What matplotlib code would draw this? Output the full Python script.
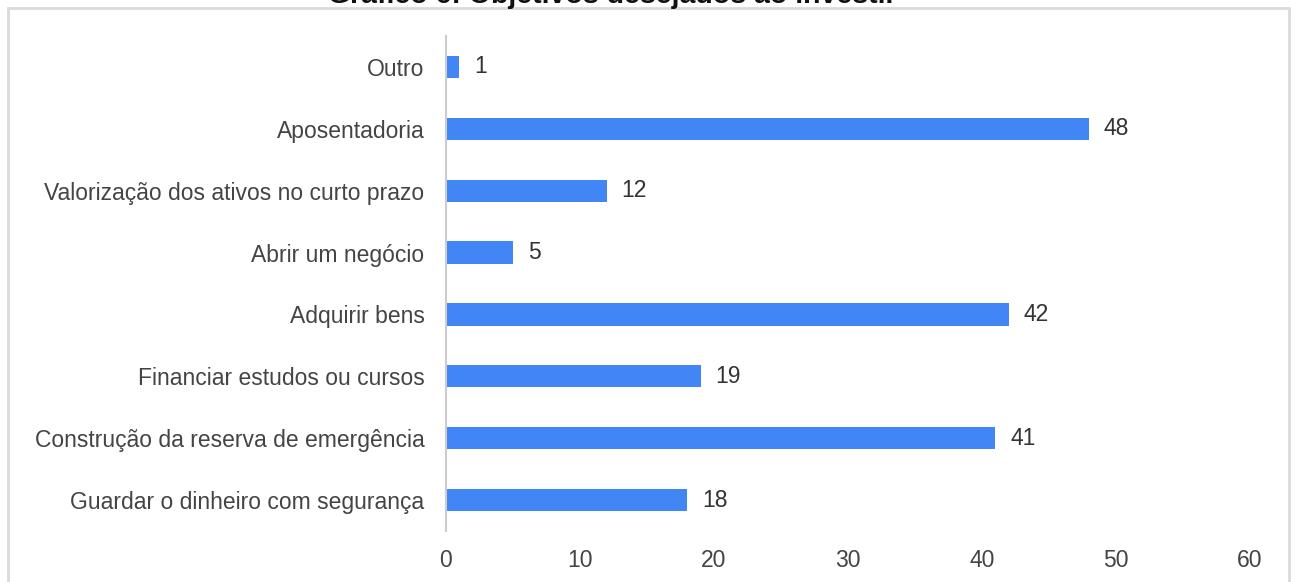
import matplotlib
matplotlib.use("Agg")
import matplotlib.pyplot as plt
from matplotlib.patches import Rectangle

categories = [
    "Guardar o dinheiro com segurança",
    "Construção da reserva de emergência",
    "Financiar estudos ou cursos",
    "Adquirir bens",
    "Abrir um negócio",
    "Valorização dos ativos no curto prazo",
    "Aposentadoria",
    "Outro",
]
values = [18, 41, 19, 42, 5, 12, 48, 1]
xticks = [0, 10, 20, 30, 40, 50, 60]
title = "Gráfico 6: Objetivos desejados ao investir"

plt.rcParams["font.family"] = ["Liberation Sans", "DejaVu Sans"]

W, H = 1298, 582
FS = 16.5
fig = plt.figure(figsize=(W / 100, H / 100), dpi=100)
fig.patch.set_facecolor("white")

# outer frame
fig.patches.append(Rectangle((8 / W, -0.05), (1289 - 8) / W, 1 - 8 / H + 0.05,
                             transform=fig.transFigure, fill=False,
                             edgecolor="#dadada", linewidth=2))

fig.text(612 / W, 1 - 3 / H, title, ha="center", va="baseline",
         fontsize=20.5, fontweight="bold", color="#111111")

ax = fig.add_axes([446 / W, 1 - 531 / H, (1250 - 446) / W, (531 - 36) / H])
y = list(range(len(categories)))
ax.barh(y, values, height=0.36, color="#4285F4")
for yi, v in zip(y, values):
    ax.text(v + 1.1, yi, str(v), va="center", ha="left",
            fontsize=FS, color="#333333")

ax.set_xlim(0, 60)
ax.set_ylim(-0.5, len(categories) - 0.5)
ax.set_yticks(y)
ax.set_yticklabels(categories, fontsize=FS, color="#444444")
ax.set_xticks(xticks)
ax.set_xticklabels([str(t) for t in xticks], fontsize=FS, color="#444444")
ax.tick_params(axis="both", length=0)
ax.tick_params(axis="y", pad=15.5)
ax.tick_params(axis="x", pad=13)
for s in ["top", "right", "bottom"]:
    ax.spines[s].set_visible(False)
ax.spines["left"].set_color("#cccccc")
ax.spines["left"].set_linewidth(1.5)

fig.savefig("out.png", dpi=100)
